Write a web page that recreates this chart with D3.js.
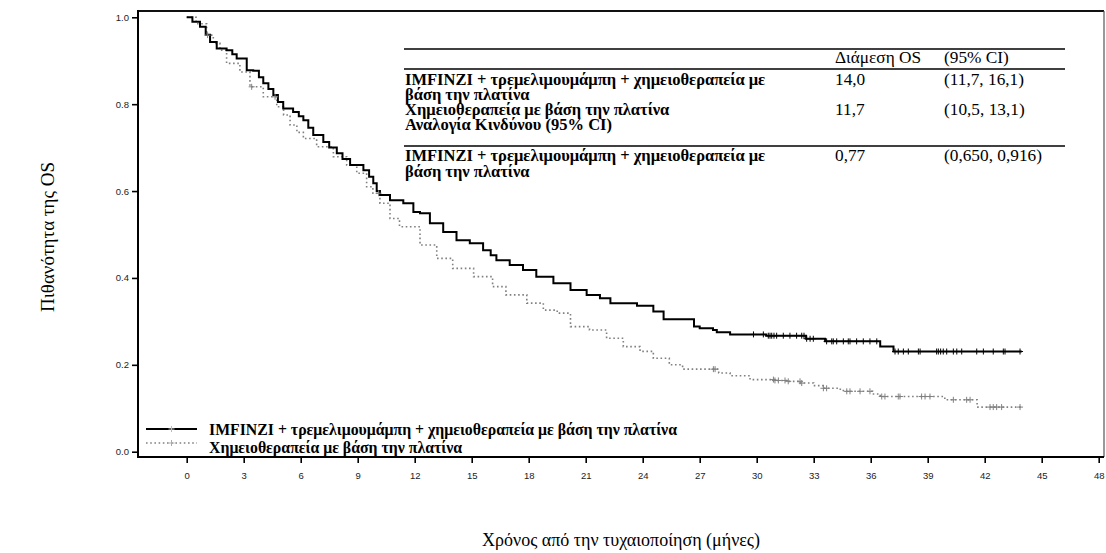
<!DOCTYPE html>
<html><head><meta charset="utf-8">
<script src="https://cdn.jsdelivr.net/npm/d3@7"></script>
<style>body{margin:0;background:#fff}svg{display:block}</style>
</head><body>
<svg id="c" width="1106" height="553"></svg>
<script>
// ---- data ----
const xTicks = [0,3,6,9,12,15,18,21,24,27,30,33,36,39,42,45,48];
const yTicks = [0.0,0.2,0.4,0.6,0.8,1.0];
const seriesNames = ["IMFINZI + τρεμελιμουμάμπη + χημειοθεραπεία με βάση την πλατίνα","Χημειοθεραπεία με βάση την πλατίνα"];
const solidT = [0,0.3,0.7,1.0,1.23,1.58,2.1,2.4,2.63,3.16,3.5,3.8,4.03,4.3,4.56,4.8,5.08,5.6,5.9,6.14,6.4,6.66,7.19,7.5,7.9,8.2,8.6,9.3,9.6,9.82,10.0,10.17,10.7,11.4,11.93,12.28,12.8,13.5,14.2,14.9,15.6,16.0,16.3,17.0,17.7,18.4,19.3,20.2,21.05,21.75,22.3,23.7,24.56,25.1,26.7,27.0,27.7,27.9,28.6,30.5,32.6,33.6,36.5,37.2,43.95];
const solidS = [1.0,0.99,0.978,0.96,0.943,0.928,0.924,0.915,0.905,0.878,0.877,0.862,0.848,0.835,0.821,0.805,0.79,0.782,0.772,0.763,0.746,0.729,0.713,0.70,0.687,0.674,0.66,0.648,0.633,0.618,0.60,0.591,0.579,0.572,0.552,0.549,0.526,0.506,0.487,0.48,0.464,0.452,0.441,0.43,0.418,0.403,0.388,0.372,0.361,0.353,0.342,0.336,0.323,0.305,0.288,0.284,0.28,0.275,0.27,0.267,0.26,0.254,0.242,0.2306,0.2306];
const dotT = [0,0.5,1.05,1.4,1.75,2.1,2.8,3.33,4.03,4.74,5.1,5.44,5.8,6.14,6.84,7.72,8.42,8.95,9.47,9.8,10.17,10.7,11.2,12.28,13.16,14.0,15.1,16.1,16.8,17.9,18.77,19.5,20.2,21.2,22.1,22.98,23.86,24.56,25.4,26.1,28.0,28.6,29.65,30.9,31.6,32.3,33.0,33.5,34.4,34.7,36.1,36.5,39.9,41.6,43.95];
const dotS = [1.0,0.985,0.959,0.94,0.924,0.894,0.874,0.84,0.817,0.794,0.775,0.752,0.735,0.721,0.702,0.679,0.66,0.641,0.61,0.595,0.572,0.537,0.518,0.476,0.445,0.422,0.403,0.38,0.361,0.342,0.326,0.319,0.288,0.28,0.261,0.242,0.231,0.215,0.2,0.19,0.181,0.175,0.166,0.164,0.162,0.158,0.152,0.146,0.141,0.139,0.133,0.127,0.1195,0.1027,0.1027];
const solidCens = [29.83,30.35,30.61,30.70,30.79,30.91,31.05,31.40,31.75,32.10,32.37,32.49,32.63,32.81,32.98,33.68,33.95,34.03,34.21,34.56,34.82,34.91,35.26,35.61,35.96,36.32,37.28,37.45,37.72,37.98,38.51,38.60,39.47,39.56,39.68,39.82,40.0,40.35,40.53,40.79,41.58,41.93,42.45,42.98,43.07,43.86];
const dotCens = [1.1,3.42,4.65,10.1,27.72,27.81,30.88,30.96,31.14,31.49,31.66,32.28,32.37,33.51,33.68,34.74,34.91,35.44,35.96,36.58,36.75,37.45,37.54,38.68,38.86,39.12,40.35,41.05,41.23,42.28,42.45,42.63,42.89,43.86];
const tableHeader = ["Διάμεση OS","(95% CI)"];
const tableRows = [
  {label:["IMFINZI + τρεμελιμουμάμπη + χημειοθεραπεία με","βάση την πλατίνα"], med:"14,0", ci:"(11,7, 16,1)"},
  {label:["Χημειοθεραπεία με βάση την πλατίνα"], med:"11,7", ci:"(10,5, 13,1)"},
  {label:["Αναλογία Κινδύνου (95% CI)"], med:"", ci:""},
  {label:["IMFINZI + τρεμελιμουμάμπη + χημειοθεραπεία με","βάση την πλατίνα"], med:"0,77", ci:"(0,650, 0,916)"}
];

// ---- layout ----
const svg = d3.select("#c");
const x = d3.scaleLinear().domain([0,48]).range([186.7,1098.7]);
const y = d3.scaleLinear().domain([0,1]).range([451.7,17.3]);
const frame = {l:138, r:1104, t:11, b:457};

// axes
const gx = svg.append("g").attr("transform",`translate(0,${frame.b})`)
  .call(d3.axisBottom(x).tickValues(xTicks).tickSize(6).tickPadding(9).tickFormat(d3.format("d")));
const gy = svg.append("g").attr("transform",`translate(${frame.l},0)`)
  .call(d3.axisLeft(y).tickValues(yTicks).tickSize(6).tickPadding(3).tickFormat(d3.format(".1f")));
[gx,gy].forEach(g=>{
  g.select(".domain").remove();
  g.selectAll(".tick line").attr("stroke","#000").attr("stroke-width",1.6);
  g.selectAll(".tick text").attr("fill","#222").style("font-family","'Liberation Sans',Arial,sans-serif").style("font-size","9.5px");
});

// frame
svg.append("line").attr("x1",frame.l).attr("x2",frame.r).attr("y1",frame.t).attr("y2",frame.t).attr("stroke","#111").attr("stroke-width",1.8);
svg.append("line").attr("x1",frame.r).attr("x2",frame.r).attr("y1",frame.t).attr("y2",frame.b).attr("stroke","#555").attr("stroke-width",1.2);
svg.append("line").attr("x1",frame.l).attr("x2",frame.l).attr("y1",frame.t-0.9).attr("y2",frame.b+1).attr("stroke","#000").attr("stroke-width",2);
svg.append("line").attr("x1",frame.l).attr("x2",frame.r).attr("y1",frame.b).attr("y2",frame.b).attr("stroke","#000").attr("stroke-width",2);

// curves
const line = d3.line().x(d=>x(d[0])).y(d=>y(d[1])).curve(d3.curveStepAfter);
const solidPts = solidT.map((t,i)=>[t,solidS[i]]);
const dotPts = dotT.map((t,i)=>[t,dotS[i]]);
svg.append("path").attr("d",line(dotPts)).attr("fill","none").attr("stroke","#808080").attr("stroke-width",1.6).attr("stroke-dasharray","1.6,2.6");
svg.append("path").attr("d",line(solidPts)).attr("fill","none").attr("stroke","#000").attr("stroke-width",2);

function stepVal(T,S,t){const i=d3.bisectRight(T,t)-1;return S[Math.max(0,i)];}
function cross(px,py,s){return `M${px},${py-s}V${py+s}M${px-s},${py}H${px+s}`;}
svg.append("path").attr("d",dotCens.map(t=>cross(x(t),y(stepVal(dotT,dotS,t)),3)).join(""))
  .attr("stroke","#808080").attr("stroke-width",1).attr("fill","none");
svg.append("path").attr("d",solidCens.map(t=>cross(x(t),y(stepVal(solidT,solidS,t)),3)).join(""))
  .attr("stroke","#000").attr("stroke-width",1).attr("fill","none");

// legend
const serif = "'Liberation Serif','Times New Roman',serif";
const leg = svg.append("g");
[[429,435,"#000",2,null],[443,453,"#808080",1.6,"1.6,2.6"]].forEach((p,i)=>{
  const l = leg.append("line").attr("x1",146).attr("x2",197).attr("y1",p[0]).attr("y2",p[0]).attr("stroke",p[2]).attr("stroke-width",p[3]);
  if(p[4]) l.attr("stroke-dasharray",p[4]);
  leg.append("path").attr("d",cross(171.5,p[0],3)).attr("stroke",i?"#aaa":"#bbb").attr("stroke-width",1);
  leg.append("text").attr("x",209).attr("y",p[1]).text(seriesNames[i])
    .style("font-family",serif).style("font-weight","bold").style("font-size","15.8px").attr("fill","#000");
});

// table
const tb = svg.append("g").style("font-family",serif).style("font-size","17.3px").attr("fill","#000");
const tl = 404, tr = 1065, cMed = 835, cCI = 944;
[49,69,146].forEach(yy=>tb.append("line").attr("x1",tl).attr("x2",tr).attr("y1",yy).attr("y2",yy).attr("stroke","#000").attr("stroke-width",1.6));
tb.append("text").attr("x",cMed).attr("y",63).text(tableHeader[0]);
tb.append("text").attr("x",cCI).attr("y",63).text(tableHeader[1]);
const rowY = [[85,100],[114.5],[129.5],[161,176.5]];
tableRows.forEach((r,i)=>{
  r.label.forEach((s,j)=>tb.append("text").attr("x",405).attr("y",rowY[i][j]).style("font-weight","bold").style("font-size","16.5px").text(s));
  if(r.med) tb.append("text").attr("x",cMed).attr("y",rowY[i][0]).text(r.med);
  if(r.ci) tb.append("text").attr("x",cCI).attr("y",rowY[i][0]).text(r.ci);
});

// axis titles
svg.append("text").attr("transform","translate(54,237) rotate(-90)").attr("text-anchor","middle")
  .style("font-family",serif).style("font-size","19px").attr("fill","#000").text("Πιθανότητα της OS");
svg.append("text").attr("x",621).attr("y",546).attr("text-anchor","middle")
  .style("font-family",serif).style("font-size","18px").attr("fill","#000").text("Χρόνος από την τυχαιοποίηση (μήνες)");
</script>
</body></html>
